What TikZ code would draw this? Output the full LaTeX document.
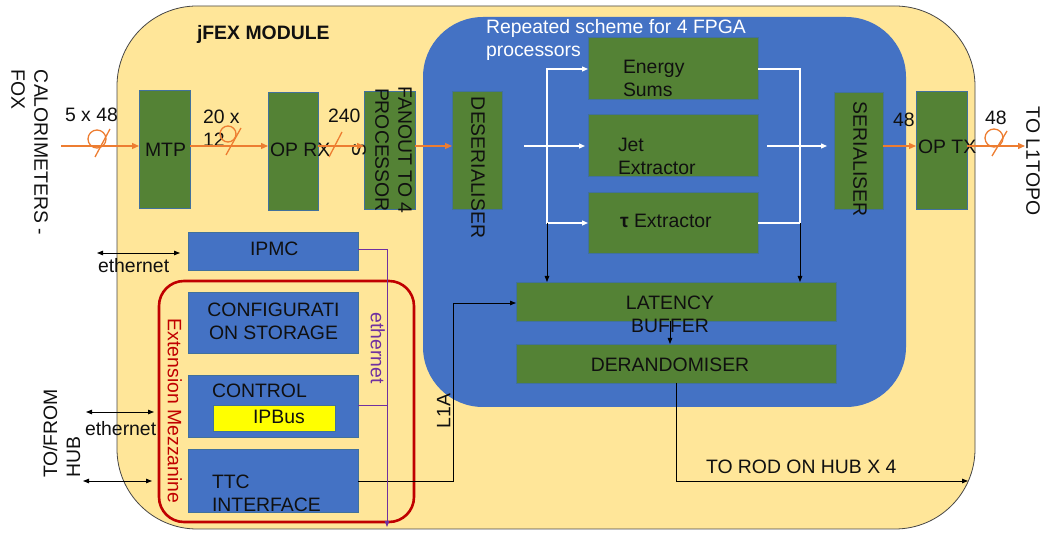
\documentclass[tikz,border=0pt]{standalone}
\usepackage{fontspec}
\setmainfont{Liberation Sans}
\usetikzlibrary{arrows.meta}
\definecolor{modfill}{HTML}{FFE699}
\definecolor{modedge}{HTML}{474747}
\definecolor{fpga}{HTML}{4472C4}
\definecolor{blk}{HTML}{548235}
\definecolor{edge}{HTML}{41719C}
\definecolor{bus}{HTML}{ED7D31}
\definecolor{mezz}{HTML}{C00000}
\definecolor{ethc}{HTML}{7030A0}
\definecolor{ipb}{HTML}{FFFF00}
\definecolor{ink}{HTML}{101010}
\newcommand\lbl{\fontsize{19.4}{23}\selectfont}
\begin{document}
\begin{tikzpicture}[x=1pt,y=-1pt,
  every node/.style={inner sep=0pt, outer sep=0pt, font=\lbl, text=ink},
  frame/.style={anchor=north west, rounded corners=#1},
  gbox/.style={draw=edge, line width=0.5pt, fill=blk, anchor=north west},
  bbox/.style={draw=edge, line width=0.5pt, fill=fpga, anchor=north west},
  flow/.style={draw=bus, line width=1.3pt, -{Triangle[length=7pt,width=6pt]}},
  busmark/.style={draw=bus, line width=1.3pt},
  wire/.style={draw=white, line width=1.3pt},
  wtip/.style={-{Triangle[length=6pt,width=5pt]}},
  sig/.style={draw=black, line width=0.9pt, -{Triangle[length=6pt,width=4.5pt]}},
  sig2/.style={draw=black, line width=0.9pt, {Triangle[length=6pt,width=4.5pt]}-{Triangle[length=6pt,width=4.5pt]}},
  ethline/.style={draw=ethc, line width=0.9pt},
]
\useasboundingbox (0,0) rectangle (1045,534);

% module outline and FPGA area
\node[frame=80pt, draw=modedge, line width=0.8pt, fill=modfill,
      minimum width=858pt, minimum height=523pt] (module) at (117,6) {};
\node[frame=60pt, fill=fpga, minimum width=483pt, minimum height=390pt] (fpgaarea) at (423,17) {};
\node[frame=25pt, draw=mezz, line width=2.6pt,
      minimum width=255pt, minimum height=241pt] (mezzbox) at (159,281) {};

% data path blocks
\node[gbox, minimum width=51pt, minimum height=118pt] (mtp) at (139,90) {};
\node[gbox, minimum width=50pt, minimum height=118pt] (oprx) at (268,92) {};
\node[gbox, minimum width=51pt, minimum height=118pt] (fanout) at (364,91) {};
\node[gbox, minimum width=50pt, minimum height=118pt] (deser) at (452,91) {};
\node[gbox, minimum width=170pt, minimum height=62pt] (energy) at (588,37) {};
\node[gbox, minimum width=170pt, minimum height=62pt] (jet) at (588,114) {};
\node[gbox, minimum width=170pt, minimum height=61pt] (tau) at (588,192) {};
\node[gbox, minimum width=49pt, minimum height=117pt] (ser) at (834,92) {};
\node[gbox, minimum width=51pt, minimum height=118pt] (optx) at (916,91) {};
\node[gbox, minimum width=320pt, minimum height=39pt] (latency) at (516,282) {};
\node[gbox, minimum width=320pt, minimum height=39pt] (derand) at (516,344) {};

% control blocks
\node[bbox, minimum width=170pt, minimum height=38pt] (ipmc) at (188,232) {};
\node[bbox, minimum width=170pt, minimum height=61pt] (config) at (188,292) {};
\node[bbox, minimum width=170pt, minimum height=62pt] (control) at (188,375) {};
\node[draw=edge, line width=0.5pt, fill=ipb, anchor=north west,
      minimum width=122pt, minimum height=26pt] (ipbus) at (213,405) {};
\node[bbox, minimum width=170pt, minimum height=63pt] (ttc) at (188,449) {};

% labels (multi-line nodes sit on the baseline of their last line)
\node[anchor=base west, font=\lbl\bfseries] (title) at (197,40) {jFEX MODULE};
\node[anchor=base west, align=left, text=white] (repeated) at (486,57) {Repeated scheme for 4 FPGA\\processors};
\node[anchor=base west] (w548) at (65,121.5) {5 x 48};
\node[anchor=base west, align=left] (w2012) at (203,147) {20 x\\12};
\node[anchor=base west] (w240) at (328,123) {240};
\node[anchor=base west] (w48a) at (893,127) {48};
\node[anchor=base west] (w48b) at (985,125) {48};
\node[anchor=base west] (tmtp) at (145,157) {MTP};
\node[anchor=base west] (toprx) at (270,157) {OP RX};
\node[anchor=base west] (toptx) at (918,154) {OP TX};
\node[anchor=base west] (tipmc) at (250,256) {IPMC};
\node[anchor=base, align=center] (tconfig) at (273.5,340) {CONFIGURATI\\ON STORAGE};
\node[anchor=base west] (tcontrol) at (212,398) {CONTROL};
\node[anchor=base west] (tipbus) at (253,424) {IPBus};
\node[anchor=base west, align=left] (tttc) at (212,512) {TTC\\INTERFACE};
\node[anchor=base west, align=left] (tenergy) at (623,97) {Energy\\Sums};
\node[anchor=base west, align=left] (tjet) at (618,175) {Jet\\Extractor};
\node[anchor=base west] (ttau) at (620,228) {{\bfseries τ} Extractor};
\node[anchor=base, align=center] (tlatency) at (670,333) {LATENCY\\BUFFER};
\node[anchor=base] (tderand) at (670,372) {DERANDOMISER};
\node[anchor=base west] (teth1) at (98,273) {ethernet};
\node[anchor=base west] (teth2) at (85,436) {ethernet};
\node[anchor=base west] (trod) at (706,474) {TO ROD ON HUB X 4};

% rotated labels
\node[rotate=-90, anchor=north west, align=left] (tcalo) at (48,70) {CALORIMETERS -\\FOX};
\node[rotate=90, anchor=north west, align=left] (thub) at (43,478) {TO/FROM\\HUB};
\node[rotate=-90, anchor=north west] (ttopo) at (1040,107) {TO L1TOPO};
\node[rotate=-90, anchor=north west] (tdeser) at (485,97) {DESERIALISER};
\node[rotate=-90, anchor=north west] (tser) at (867,102) {SERIALISER};
\node[rotate=-90, anchor=north, align=center] (tfanout) at (412,150) {FANOUT TO 4\\PROCESSOR\\S};
\node[rotate=-90, anchor=north, text=mezz] (tmezz) at (182,411) {Extension Mezzanine};
\node[rotate=-90, anchor=north, text=ethc] (tetheth) at (385,348) {ethernet};
\node[rotate=90, anchor=north] (tl1a) at (437,411) {L1A};

% optical bus
\coordinate (busy) at (0,146);
\coordinate (caloin) at (61,146);
\coordinate (topoout) at (1025,146);
\draw[flow] (caloin) -- (mtp.west |- busy);
\draw[flow] (mtp.east |- busy) -- (oprx.west |- busy);
\draw[flow] (oprx.east |- busy) -- (fanout.west |- busy);
\draw[flow] (fanout.east |- busy) -- (deser.west |- busy);
\draw[flow] (ser.east |- busy) -- (optx.west |- busy);
\draw[flow] (optx.east |- busy) -- (topoout);

% bus width marks
\draw[busmark] (97,139) circle[radius=9];
\draw[busmark] (110,129) -- (95,157);
\draw[busmark] (228,134) circle[radius=8];
\draw[busmark] (241,128) -- (226,155);
\draw[busmark] (342,132) -- (329,157);
\draw[busmark] (994,138) circle[radius=9];
\draw[busmark] (1007,131) -- (992,156);

% fan-out to the algorithm blocks
\coordinate (jetin) at (524,146);
\coordinate (tapl) at (547,69);
\coordinate (taplb) at (547,223);
\coordinate (tapr) at (800,69);
\coordinate (taprb) at (800,223);
\coordinate (jetout) at (767,146);
\draw[wire, wtip, shorten >=3pt] (jetin) -- (jet.west |- busy);
\draw[wire, {Triangle[length=6pt,width=5pt]}-{Triangle[length=6pt,width=5pt]}]
  (energy.west |- tapl) -- (tapl) -- (taplb) -- (tau.west |- taplb);
\draw[wire] (energy.east |- tapr) -- (tapr) -- (taprb) -- (tau.east |- taprb);
\draw[wire, wtip, shorten >=7pt] (jetout) -- (ser.west |- busy);

% readout path
\coordinate (bufx) at (670,0);
\coordinate (l1alow) at (453,481);
\coordinate (l1ahigh) at (453,303);
\coordinate (rodturn) at (676,481);
\coordinate (rodout) at (968,481);
\draw[sig] (taplb) -- (taplb |- latency.north);
\draw[sig] (taprb) -- (taprb |- latency.north);
\draw[sig] (latency.south -| bufx) -- (derand.north -| bufx);
\draw[sig] (ttc.east |- l1alow) -- (l1alow) -- (l1ahigh) -- (latency.west |- l1ahigh);
\draw[sig] (derand.south -| rodturn) -- (rodturn) -- (rodout);

% external links
\coordinate (eth1) at (97,253);
\coordinate (eth2) at (86,412);
\coordinate (hubttc) at (83,481);
\draw[sig2] (eth1) -- ([xshift=-8pt]ipmc.west |- eth1);
\draw[sig2] (eth2) -- ([xshift=-5pt]mezzbox.west |- eth2);
\draw[sig2] (hubttc) -- ([xshift=-7pt]mezzbox.west |- hubttc);

% internal ethernet
\coordinate (ethx) at (387,0);
\coordinate (ethend) at (387,527);
\draw[ethline, -{Triangle[length=6pt,width=4.5pt]}] (ipmc.east |- 0,249) -- (ethx |- 0,249) -- (ethend);
\draw[ethline] (control.east |- 0,405) -- (ethx |- 0,405);
\end{tikzpicture}
\end{document}
